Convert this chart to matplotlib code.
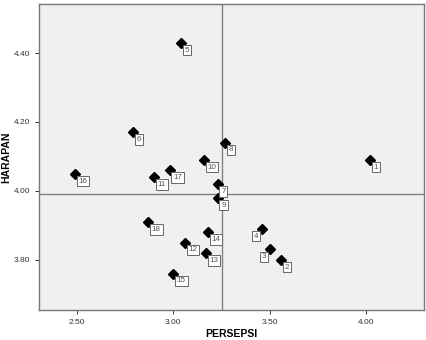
import matplotlib
matplotlib.use('Agg')
import matplotlib.pyplot as plt

plt.rcParams['font.family'] = ['Liberation Sans', 'DejaVu Sans']

# respondent/item ids with mean scores
ids = ['1', '2', '3', '4', '5', '6', '7', '8', '9', '10',
       '11', '12', '13', '14', '15', '16', '17', '18']
persepsi = [4.02, 3.56, 3.50, 3.46, 3.04, 2.79, 3.23, 3.27, 3.23, 3.16,
            2.90, 3.06, 3.17, 3.18, 3.00, 2.49, 2.98, 2.87]
harapan = [4.09, 3.80, 3.83, 3.89, 4.43, 4.17, 4.02, 4.14, 3.98, 4.09,
           4.04, 3.85, 3.82, 3.88, 3.76, 4.05, 4.06, 3.91]
left_labels = ['3', '4']

mean_x = 3.252
mean_y = 3.992

xticks = [2.50, 3.00, 3.50, 4.00]
yticks = [3.80, 4.00, 4.20, 4.40]

fig = plt.figure(figsize=(4.27, 3.40), dpi=100)
ax = fig.add_axes([0.0913, 0.088, 0.902, 0.900])
ax.set_facecolor('#f0f0f0')

ax.axvline(mean_x, color='#808080', lw=1.0, zorder=1)
ax.axhline(mean_y, color='#808080', lw=1.0, zorder=1)

ax.plot(persepsi, harapan, linestyle='none', marker='D', ms=5.6,
        color='black', zorder=3)

for i, x, y in zip(ids, persepsi, harapan):
    if i in left_labels:
        off, ha = (-2.5, -2.8), 'right'
    else:
        off, ha = (2.5, -2.8), 'left'
    ax.annotate(i, (x, y), xytext=off, textcoords='offset points',
                ha=ha, va='top', fontsize=5.8, color='#555555', zorder=4,
                bbox=dict(boxstyle='square,pad=0.22', fc='white',
                          ec='#666666', lw=0.7))

ax.set_xlim(2.303, 4.30)
ax.set_ylim(3.654, 4.542)
ax.set_xticks(xticks)
ax.set_xticklabels(['%.2f' % v for v in xticks])
ax.set_yticks(yticks)
ax.set_yticklabels(['%.2f' % v for v in yticks])
ax.tick_params(labelsize=6, colors='#333333', length=3, width=0.7)

for s in ax.spines.values():
    s.set_color('#777777')
    s.set_linewidth(1.0)

ax.set_xlabel('PERSEPSI', fontsize=7.5, fontweight='bold')
ax.set_ylabel('HARAPAN', fontsize=7.5, fontweight='bold')
ax.xaxis.set_label_coords(0.5, -0.062)
ax.yaxis.set_label_coords(-0.072, 0.5)

fig.savefig('out.png', dpi=100)
